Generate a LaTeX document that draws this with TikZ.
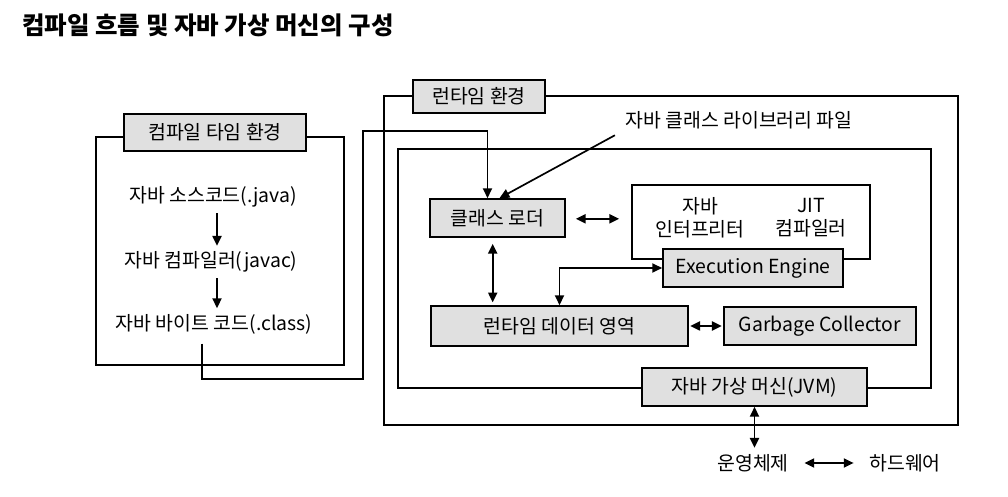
\documentclass[tikz,border=0pt]{standalone}
\usepackage{fontspec}
\setmainfont{Noto Sans CJK KR}
\usepackage{tikz}
\usetikzlibrary{positioning, arrows.meta}

\definecolor{boxgray}{RGB}{224,224,224}

\tikzset{
    frame/.style={draw, line width=1.2pt, rectangle, inner sep=0pt},
    graybox/.style={draw, line width=1.2pt, rectangle, fill=boxgray, inner sep=0pt},
    plain/.style={inner sep=1pt, align=center},
    arr/.style={line width=1.2pt, -{Triangle[length=7pt,width=6.5pt]}},
    darr/.style={line width=1.2pt, {Triangle[length=7pt,width=6.5pt]}-{Triangle[length=7pt,width=6.5pt]}}
}

\begin{document}
\begin{tikzpicture}[x=0.025cm, y=-0.025cm, font=\fontsize{13.8}{16.3}\selectfont]
    \useasboundingbox (0,0) rectangle (1008,497);

    % Title
    \node[anchor=west, inner sep=0pt, font=\fontsize{17.4}{20}\selectfont\bfseries] (title) at (22,25) {컴파일 흐름 및 자바 가상 머신의 구성};

    % Compile time environment
    \node[frame, minimum width=6.2cm, minimum height=5.7cm] (ctframe) at (220,251) {};
    \node[graybox, minimum width=4.55cm, minimum height=0.925cm] (ctlabel) at (215,132.5) {컴파일 타임 환경};
    \node[plain] (src) at (213,197) {자바 소스코드(.java)};
    \node[plain] (javac) at (211,262) {자바 컴파일러(javac)};
    \node[plain] (bytecode) at (214,324) {자바 바이트 코드(.class)};

    % Runtime environment
    \node[frame, minimum width=14.35cm, minimum height=8.225cm] (rtframe) at (671,260.5) {};
    \node[frame, minimum width=13.325cm, minimum height=5.975cm] (jvmframe) at (664.5,268.5) {};
    \node[graybox, minimum width=3.3cm, minimum height=0.825cm] (rtlabel) at (479,96.5) {런타임 환경};
    \node[graybox, minimum width=5.625cm, minimum height=0.95cm] (jvmlabel) at (754.5,387) {자바 가상 머신(JVM)};
    \node[plain] (libtext) at (739,120) {자바 클래스 라이브러리 파일};

    % JVM parts
    \node[graybox, minimum width=3.375cm, minimum height=0.95cm] (loader) at (497.5,218) {클래스 로더};
    \node[frame, minimum width=5.95cm, minimum height=1.85cm] (interp) at (751,222) {};
    \node[plain] (interptext) at (700,218) {자바\\인터프리터};
    \node[plain] (jittext) at (811,218) {JIT\\컴파일러};
    \node[graybox, minimum width=4.5cm, minimum height=0.95cm] (engine) at (753,268) {Execution Engine};
    \node[graybox, minimum width=6.425cm, minimum height=1cm] (rtdata) at (559.5,326) {런타임 데이터 영역};
    \node[graybox, minimum width=4.8cm, minimum height=0.95cm] (gc) at (820,326) {Garbage Collector};

    % Outside
    \node[plain] (os) at (753,463) {운영체제};
    \node[plain] (hw) at (905,463) {하드웨어};
    \coordinate (cbot) at (363,379);
    \coordinate (ctop) at (363,131);

    % Connections
    \draw[arr, shorten <=3pt, shorten >=3pt] ([xshift=0.1cm]src.south) -- ([xshift=0.1cm]src.south |- javac.north);
    \draw[arr, shorten <=3pt, shorten >=3pt] ([xshift=0.15cm]javac.south) -- ([xshift=0.15cm]javac.south |- bytecode.north);
    \draw[arr, shorten <=0.2cm] ([xshift=-0.3cm]bytecode.south) |- (cbot) -- (ctop) -| ([xshift=-0.25cm]loader.north);
    \draw[arr, shorten <=0.25cm] (libtext.south west) -- ([xshift=0.05cm]loader.north);
    \draw[darr, shorten <=0.25cm, shorten >=0.3cm] ([yshift=-0.02cm]loader.east) -- ([yshift=-0.02cm]loader.east -| interp.west);
    \draw[darr, shorten <=0.15cm, shorten >=0.07cm] ([xshift=-0.12cm]loader.south) -- ([xshift=-0.12cm]loader.south |- rtdata.north);
    \draw[darr] (engine.west) -| (rtdata.north);
    \draw[darr, shorten <=1pt, shorten >=1pt] (rtdata.east) -- (gc.west);
    \draw[darr] (jvmlabel.south) -- ([yshift=0.12cm]jvmlabel.south |- os.north);
    \draw[darr, shorten <=0.35cm, shorten >=0.35cm] (os.east) -- (hw.west);
\end{tikzpicture}
\end{document}
